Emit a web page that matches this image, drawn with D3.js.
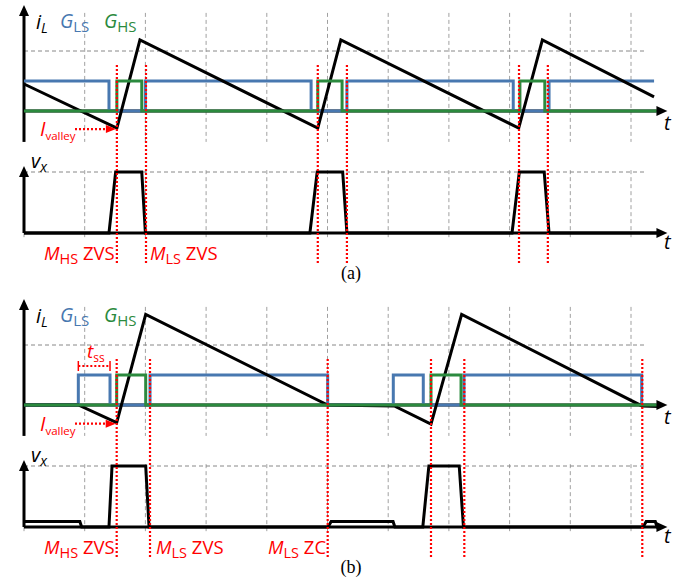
<!DOCTYPE html>
<html>
<head>
<meta charset="utf-8">
<script src="https://cdn.jsdelivr.net/npm/d3@7"></script>
<style>
  body { margin: 0; background: #fff; }
  svg { display: block; }
  text { font-family: "Open Sans", "DejaVu Sans", sans-serif; }
  text.caption { font-family: "Liberation Serif", "Times New Roman", serif; }
</style>
</head>
<body>
<svg id="chart" width="690" height="584"></svg>
<script>
// Time is measured in grid divisions; inductor current and gate signals share
// one vertical unit (gate "on" level = 1), v_x is normalised to its high level.
const gridTicks = [0, 1, 2, 3, 4, 5, 6, 7, 8, 9, 10];

// ---- (a) three switching periods, both transitions soft ----
const iL_a = [[0, 0.9], [1.53, -0.57], [1.91, 2.37], [4.84, -0.57], [5.22, 2.37],
              [8.15, -0.57], [8.54, 2.37], [10.38, 0.47]];
const gLS_a = [[0, 1], [1.40, 0], [2.00, 1], [4.73, 0], [5.32, 1], [8.06, 0], [8.65, 1], [10.38, 1]];
const gHS_a = [[0, 0], [1.53, 1], [1.94, 0], [4.84, 1], [5.24, 0], [8.17, 1], [8.58, 0], [10.42, 0]];
const vx_a = [[0, 0], [1.40, 0], [1.51, 1], [1.94, 1], [2.00, 0], [4.71, 0], [4.83, 1], [5.25, 1],
              [5.32, 0], [8.04, 0], [8.16, 1], [8.57, 1], [8.65, 0], [10.45, 0]];
const edges_a = [1.53, 2.01, 4.84, 5.32, 8.155, 8.63];
const valley_a = [1.53, -0.57];

// ---- (b) low-side pre-pulse of length t_ss, current returns to zero ----
const iL_b = [[0, 0], [0.895, 0], [1.527, -0.59], [2.005, 3.02], [5.003, 0], [6.10, -0.03],
              [6.705, -0.64], [7.21, 3.02], [10.18, -0.03], [10.45, -0.05]];
const gLS_b = [[0, 0], [0.895, 1], [1.417, 0], [2.076, 1], [5.003, 0], [6.084, 1], [6.578, 0],
               [7.249, 1], [10.176, 0], [10.3, 0]];
const gHS_b = [[0, 0], [1.527, 1], [2.005, 0], [6.705, 1], [7.20, 0], [10.42, 0]];
const vx_b = [[0, 0.09], [0.92, 0.09], [0.95, 0], [1.40, 0], [1.45, 1], [2.005, 1], [2.06, 0],
              [5.01, 0], [5.06, 0.09], [6.08, 0.09], [6.11, 0], [6.57, 0], [6.67, 1], [7.17, 1],
              [7.24, 0], [10.20, 0], [10.25, 0.09], [10.40, 0.09], [10.43, 0], [10.45, 0]];
const edges_b = [1.527, 2.076, 5.003, 6.705, 7.254, 10.186];
const valley_b = [1.527, -0.59];
const tss_b = [0.895, 1.417];

const BLUE = "#4878b0", GREEN = "#2b8a3e", RED = "#ff0000";

const svg = d3.select("#chart");
const x = d3.scaleLinear().domain([0, 10]).range([24, 631]);
const yTop = d3.scaleLinear().domain([0, 2]).range([111, 51]);
const yBot = d3.scaleLinear().domain([0, 1]).range([233, 172]);

const lineTop = d3.line().x(d => x(d[0])).y(d => yTop(d[1]));
const stepTop = d3.line().x(d => x(d[0])).y(d => yTop(d[1])).curve(d3.curveStepAfter);
const lineBot = d3.line().x(d => x(d[0])).y(d => yBot(d[1]));

function mathLabel(g, px, py, parts, color, size) {
  const t = g.append("text").attr("x", px).attr("y", py)
    .attr("fill", color).attr("font-size", size || 18);
  let shift = 0;
  parts.forEach(p => {
    const s = t.append("tspan").text(p.text);
    const target = p.sub ? 4 : 0;
    if (target !== shift) { s.attr("dy", target - shift); shift = target; }
    if (p.italic) s.attr("font-style", "italic");
    if (p.sub) s.attr("font-size", p.size || 14);
  });
  return t;
}

function axisArrows(g, y0) {
  // horizontal time axis with arrow head
  g.append("line").attr("x1", x(0)).attr("x2", x(10.45)).attr("y1", y0).attr("y2", y0)
    .attr("stroke", "#000").attr("stroke-width", 3);
  g.append("path")
    .attr("d", `M${x(10.6)},${y0} L${x(10.6) - 11},${y0 - 5} L${x(10.6) - 11},${y0 + 5} Z`)
    .attr("fill", "#000");
}

function vAxis(g, yTopPx, yBottomPx) {
  g.append("line").attr("x1", x(0)).attr("x2", x(0)).attr("y1", yTopPx + 9).attr("y2", yBottomPx)
    .attr("stroke", "#000").attr("stroke-width", 3);
  g.append("path")
    .attr("d", `M${x(0)},${yTopPx} L${x(0) - 5},${yTopPx + 11} L${x(0) + 5},${yTopPx + 11} Z`)
    .attr("fill", "#000");
}

function panel(offset, d) {
  const g = svg.append("g").attr("transform", `translate(0,${offset})`);

  // dashed grid: upper (current / gates) and lower (switch-node voltage)
  g.selectAll(".gridTop").data(gridTicks).join("line")
    .attr("x1", x).attr("x2", x).attr("y1", yTop(3.27)).attr("y2", yTop(-1.03))
    .attr("stroke", "#a0a0a0").attr("stroke-width", 1).attr("stroke-dasharray", "4,3");
  g.selectAll(".gridBot").data(gridTicks).join("line")
    .attr("x1", x).attr("x2", x).attr("y1", yBot(1.03)).attr("y2", yBot(-0.115))
    .attr("stroke", "#a0a0a0").attr("stroke-width", 1).attr("stroke-dasharray", "4,3");
  g.append("line").attr("x1", x(0)).attr("x2", x(10.23)).attr("y1", yTop(2)).attr("y2", yTop(2))
    .attr("stroke", "#888").attr("stroke-width", 1).attr("stroke-dasharray", "4,3");
  g.append("line").attr("x1", x(0)).attr("x2", x(10.23)).attr("y1", yBot(1)).attr("y2", yBot(1))
    .attr("stroke", "#888").attr("stroke-width", 1).attr("stroke-dasharray", "4,3");

  // axes
  vAxis(g, yTop(3.53), yTop(-1.03));
  axisArrows(g, yTop(0));
  vAxis(g, yBot(1.1), yBot(0));
  axisArrows(g, yBot(0));

  // gate signals and inductor current
  g.append("path").attr("d", stepTop(d.gLS)).attr("fill", "none")
    .attr("stroke", BLUE).attr("stroke-width", 3);
  g.append("path").attr("d", lineTop(d.iL)).attr("fill", "none")
    .attr("stroke", "#000").attr("stroke-width", 3).attr("stroke-linejoin", "miter");
  g.append("path").attr("d", stepTop(d.gHS)).attr("fill", "none")
    .attr("stroke", GREEN).attr("stroke-width", 3);

  // switch-node voltage
  g.append("path").attr("d", lineBot(d.vx)).attr("fill", "none")
    .attr("stroke", "#000").attr("stroke-width", 3).attr("stroke-linejoin", "miter");

  // switching instants
  g.selectAll(".edge").data(d.edges).join("line")
    .attr("x1", x).attr("x2", x).attr("y1", yTop(1.53)).attr("y2", yBot(-0.49))
    .attr("stroke", RED).attr("stroke-width", 2.2).attr("stroke-dasharray", "2,2");

  // valley current annotation
  const vy = yTop(d.valley[1]) + 1;
  g.append("line").attr("x1", 75).attr("x2", x(d.valley[0]) - 9).attr("y1", vy).attr("y2", vy)
    .attr("stroke", RED).attr("stroke-width", 2.2).attr("stroke-dasharray", "2,2");
  g.append("path")
    .attr("d", `M${x(d.valley[0]) - 1},${vy} L${x(d.valley[0]) - 11},${vy - 4} L${x(d.valley[0]) - 11},${vy + 4} Z`)
    .attr("fill", RED);
  mathLabel(g, 40, yTop(d.valley[1]) + 8, [{ text: "I", italic: true }, { text: "valley", sub: true, size: 11.5 }], RED, 20);

  // signal names
  mathLabel(g, 36, 29, [{ text: "i", italic: true }, { text: "L", italic: true, sub: true }], "#000", 20);
  mathLabel(g, 60, 28, [{ text: "G", italic: true }, { text: "LS", sub: true, size: 15 }], BLUE, 19.5);
  mathLabel(g, 104, 28, [{ text: "G", italic: true }, { text: "HS", sub: true, size: 15 }], GREEN, 19.5);
  mathLabel(g, 31, 168, [{ text: "v", italic: true }, { text: "x", italic: true, sub: true }], "#000", 20);
  g.append("text").attr("x", 664).attr("y", 130).attr("font-size", 20).attr("font-style", "italic").text("t");
  g.append("text").attr("x", 664).attr("y", 249).attr("font-size", 20).attr("font-style", "italic").text("t");

  // soft-switching notes
  d.notes.forEach(n => {
    mathLabel(g, n.x, 260, [{ text: "M", italic: true }, { text: n.sw, sub: true, size: 14.5 }, { text: "\u00a0" + n.kind }], RED, 18.5);
  });

  g.append("text").attr("class", "caption").attr("x", 351).attr("y", 279).attr("text-anchor", "middle")
    .attr("font-size", 18).text(d.caption);
  return g;
}

panel(0, {
  iL: iL_a, gLS: gLS_a, gHS: gHS_a, vx: vx_a, edges: edges_a, valley: valley_a,
  notes: [{ x: 44, sw: "HS", kind: "ZVS" }, { x: 150, sw: "LS", kind: "ZVS" }],
  caption: "(a)"
});

const gb = panel(294, {
  iL: iL_b, gLS: gLS_b, gHS: gHS_b, vx: vx_b, edges: edges_b, valley: valley_b,
  notes: [{ x: 44, sw: "HS", kind: "ZVS" }, { x: 156, sw: "LS", kind: "ZVS" }, { x: 268, sw: "LS", kind: "ZC" }],
  caption: "(b)"
});

// pre-pulse length marker t_ss on the first low-side pulse
const ty = yTop(1.3);
gb.append("line").attr("x1", x(tss_b[0])).attr("x2", x(tss_b[1])).attr("y1", ty).attr("y2", ty)
  .attr("stroke", RED).attr("stroke-width", 2.2).attr("stroke-dasharray", "2,2");
gb.selectAll(".tssEnd").data(tss_b).join("line")
  .attr("x1", x).attr("x2", x).attr("y1", ty - 5).attr("y2", ty + 5)
  .attr("stroke", RED).attr("stroke-width", 1.5);
mathLabel(gb, 87, ty - 8, [{ text: "t", italic: true }, { text: "ss", sub: true, size: 12 }], RED, 19);
</script>
</body>
</html>
